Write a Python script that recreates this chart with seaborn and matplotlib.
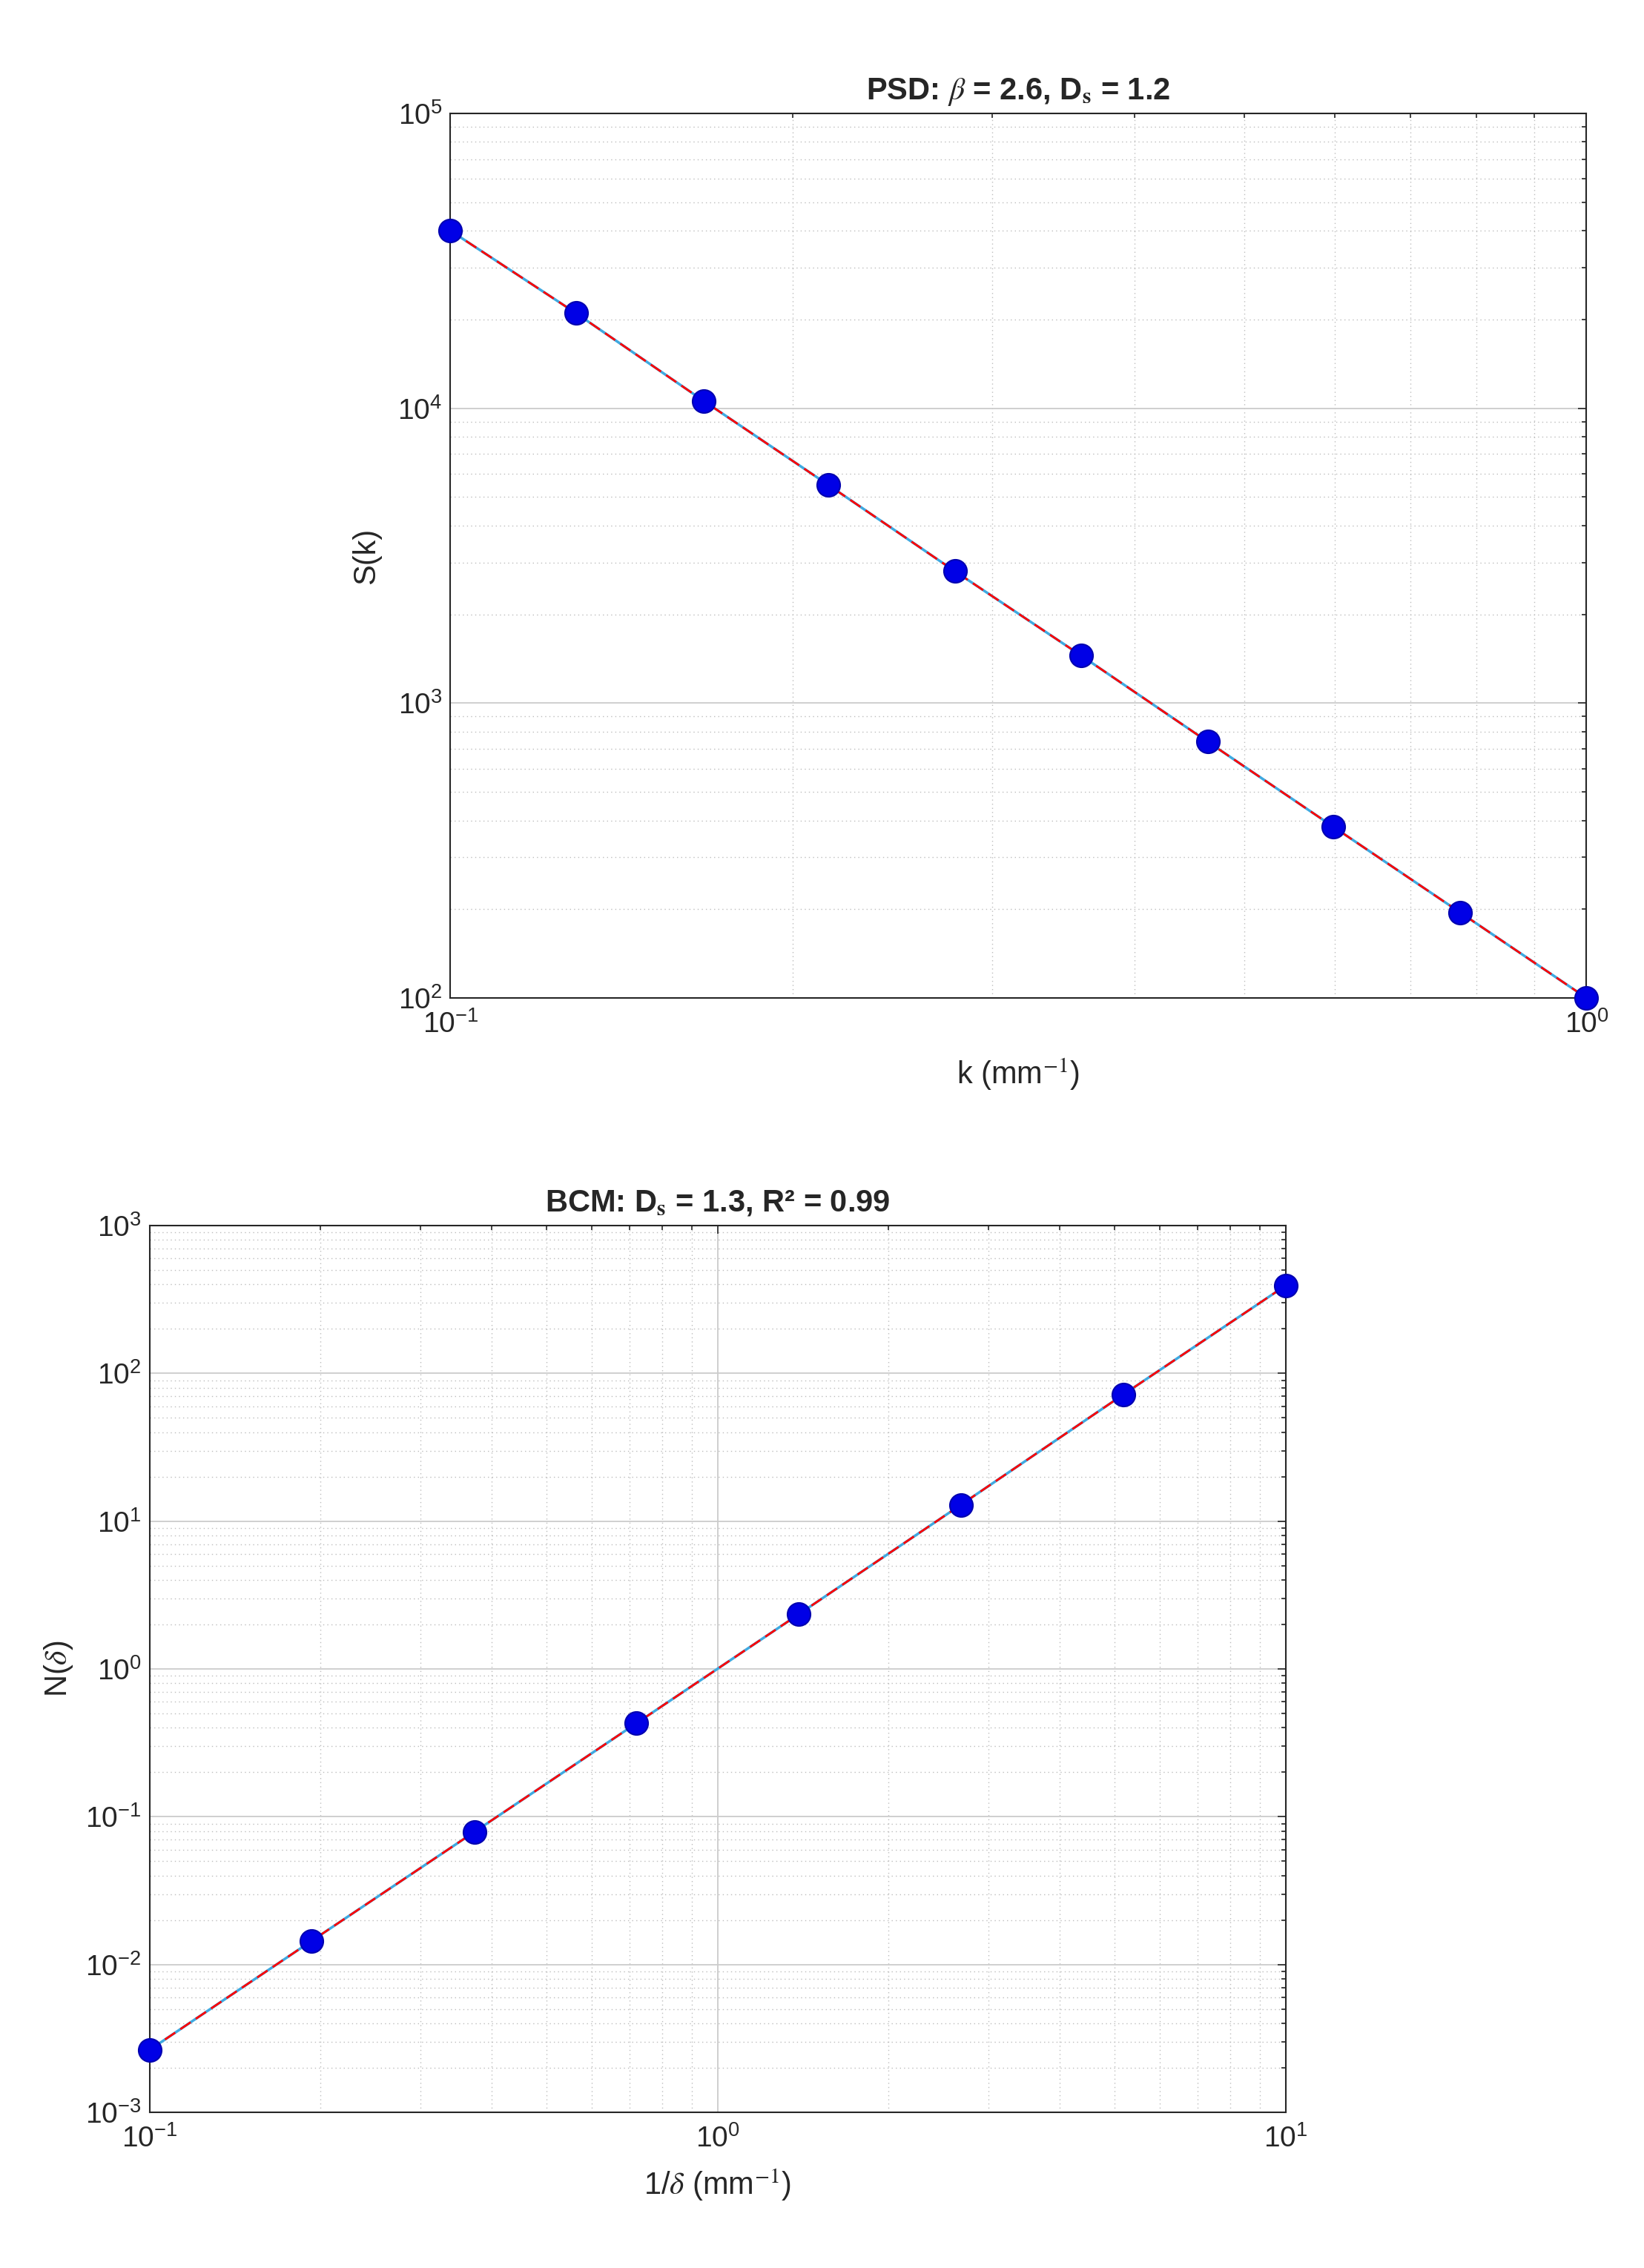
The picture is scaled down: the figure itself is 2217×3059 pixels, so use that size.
import matplotlib
matplotlib.use("Agg")
import matplotlib.pyplot as plt
import matplotlib.ticker as mticker
import seaborn as sns
import pandas as pd

k_vals = [0.1, 0.129, 0.167, 0.215, 0.278, 0.359, 0.464, 0.599, 0.774, 1.0]
S_vals = [40000, 21000, 10600, 5500, 2800, 1450, 740, 380, 195, 100]
inv_delta = [0.1, 0.193, 0.373, 0.72, 1.39, 2.68, 5.18, 10.0]
N_vals = [0.00265, 0.0145, 0.079, 0.43, 2.35, 12.9, 72, 393]

sns.set_theme(style="white")
plt.rcParams['font.family'] = ['Liberation Sans', 'DejaVu Sans']
plt.rcParams['mathtext.fontset'] = 'stix'

fig = plt.figure(figsize=(22.17, 30.59), dpi=100)
ax1 = fig.add_axes([0.274, 0.560, 0.691, 0.390])
ax2 = fig.add_axes([0.091, 0.0686, 0.691, 0.391])

def style(ax, xlim, ylim):
    ax.set_xscale('log'); ax.set_yscale('log')
    ax.set_xlim(*xlim); ax.set_ylim(*ylim)
    for a in (ax.xaxis, ax.yaxis):
        a.set_major_locator(mticker.LogLocator(base=10, numticks=20))
        a.set_minor_locator(mticker.LogLocator(base=10, subs=range(2, 10), numticks=20))
        a.set_minor_formatter(mticker.NullFormatter())
    ax.grid(True, which='major', color='#cccccc', lw=1.3)
    ax.grid(True, which='minor', color='#bdbdbd', lw=1.0, ls=(0, (1, 3)))
    for s in ax.spines.values():
        s.set_color('#262626'); s.set_linewidth(1.5)
    ax.tick_params(which='both', direction='in', labelsize=28, labelcolor='#262626',
                   color='#262626', top=True, right=True, length=8, width=1.2)
    ax.tick_params(axis='x', pad=12)
    ax.tick_params(axis='y', pad=8)
    ax.tick_params(which='minor', length=4)

df1 = pd.DataFrame({'k': k_vals, 'S': S_vals})
df2 = pd.DataFrame({'x': inv_delta, 'N': N_vals})

for ax, df, x, y in [(ax1, df1, 'k', 'S'), (ax2, df2, 'x', 'N')]:
    sns.lineplot(data=df, x=x, y=y, ax=ax, color='#3fa9e0', lw=2.5)
    sns.lineplot(data=df, x=x, y=y, ax=ax, color='red', lw=2.0, ls=(0, (6, 3)))
    sns.scatterplot(data=df, x=x, y=y, ax=ax, color='#0000e6', s=500,
                    edgecolor='#0000b0', linewidth=1.5, zorder=5, clip_on=False)

style(ax1, (0.1, 1.0), (100, 1e5))
style(ax2, (0.1, 10), (1e-3, 1e3))
ax1.set_title(r'PSD: $\beta$ = 2.6, D$_\mathbf{s}$ = 1.2', fontsize=30, fontweight='bold', pad=14)
ax1.set_xlabel(r'k (mm$^{-1}$)', fontsize=30, color='#262626', labelpad=18)
ax1.set_ylabel('S(k)', fontsize=30, color='#262626', labelpad=16)
ax2.set_title(r'BCM: D$_\mathbf{s}$ = 1.3, R² = 0.99', fontsize=30, fontweight='bold', pad=14)
ax2.set_xlabel(r'1/$\delta$ (mm$^{-1}$)', fontsize=30, color='#262626', labelpad=14)
ax2.set_ylabel(r'N($\delta$)', fontsize=30, color='#262626', labelpad=10)

fig.savefig('out.png', dpi=100, facecolor='white')
